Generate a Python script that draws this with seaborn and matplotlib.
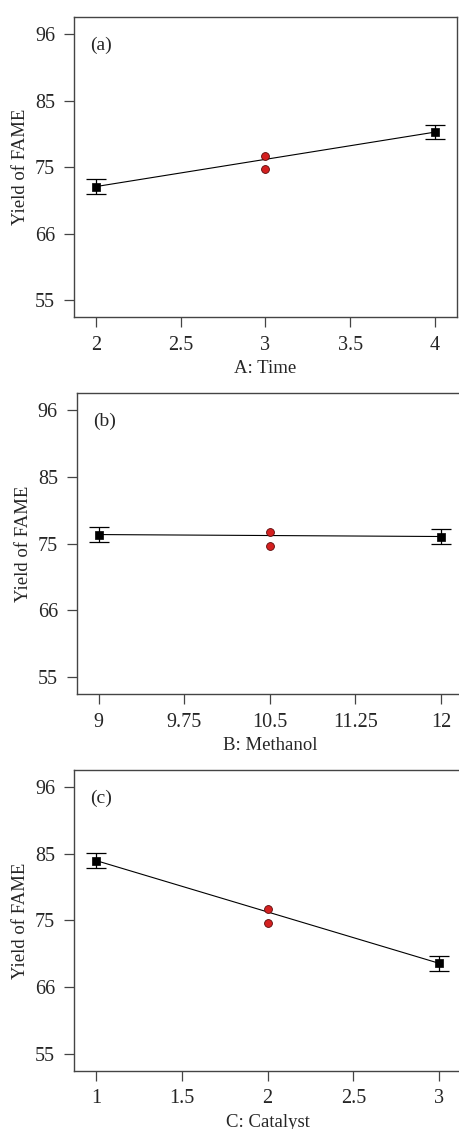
import numpy as np
import matplotlib
matplotlib.use('Agg')
import matplotlib.pyplot as plt
import seaborn as sns
import pandas as pd

# factor levels (low, high) and the centre point for each panel
time_levels = [2, 4]
time_mean = [72.5, 80.9]
time_err = [1.1, 1.1]
time_ticks = [2, 2.5, 3, 3.5, 4]
time_tick_labels = ['2', '2.5', '3', '3.5', '4']

methanol_levels = [9, 12]
methanol_mean = [76.9, 76.6]
methanol_err = [1.1, 1.1]
methanol_ticks = [9, 9.75, 10.5, 11.25, 12]
methanol_tick_labels = ['9', '9.75', '10.5', '11.25', '12']

catalyst_levels = [1, 3]
catalyst_mean = [84.7, 68.9]
catalyst_err = [1.1, 1.1]
catalyst_ticks = [1, 1.5, 2, 2.5, 3]
catalyst_tick_labels = ['1', '1.5', '2', '2.5', '3']

# centre point replicates (same in every panel)
centre_yield = [77.25, 75.15]

# y axis labels are evenly spaced on the original plot
y_tick_labels = ['55', '66', '75', '85', '96']
y_ticks = np.linspace(55, 96, 5)


def draw_panel(ax, levels, mean, err, ticks, tick_labels, tag, xlabel, xlim):
    centre = (levels[0] + levels[1]) / 2
    line_df = pd.DataFrame({'x': levels, 'y': mean})
    sns.lineplot(data=line_df, x='x', y='y', color='black', linewidth=0.8, ax=ax)

    ax.errorbar(levels, mean, yerr=err, fmt='none', ecolor='black',
                elinewidth=0.9, capsize=7, capthick=0.9, zorder=3)
    sns.scatterplot(data=line_df, x='x', y='y', marker='s', color='black',
                    s=40, edgecolor='black', linewidth=0.5, ax=ax, zorder=4)

    centre_df = pd.DataFrame({'x': [centre] * len(centre_yield), 'y': centre_yield})
    sns.scatterplot(data=centre_df, x='x', y='y', marker='o', color='#d42020',
                    s=32, edgecolor='#5a0a0a', linewidth=0.6, ax=ax, zorder=4)

    ax.set_xlim(xlim)
    ax.set_ylim((52.4, 98.6))
    ax.set_xticks(ticks)
    ax.set_xticklabels(tick_labels)
    ax.set_yticks(y_ticks)
    ax.set_yticklabels(y_tick_labels)
    ax.tick_params(axis='both', labelsize=14.5, length=7.5, width=0.9,
                   color='#444444', direction='out', pad=6)
    ax.set_xlabel(xlabel, fontsize=13.5, labelpad=4)
    ax.set_ylabel('Yield of FAME', fontsize=13.5, labelpad=4)
    for spine in ax.spines.values():
        spine.set_visible(True)
        spine.set_color('#444444')
        spine.set_linewidth(1.0)
    ax.text(0.042, 0.935, tag, transform=ax.transAxes, fontsize=14,
            ha='left', va='top')


def main():
    sns.set_style('ticks')
    plt.rcParams['font.family'] = ['Liberation Serif', 'DejaVu Serif']

    fig = plt.figure(figsize=(4.59, 11.29), dpi=100)

    ax_a = fig.add_axes([0.1612, 0.7192, 0.8344, 0.2655])
    ax_b = fig.add_axes([0.1671, 0.3853, 0.8416, 0.2663])
    ax_c = fig.add_axes([0.1612, 0.0516, 0.8438, 0.2663])

    draw_panel(ax_a, time_levels, time_mean, time_err, time_ticks,
               time_tick_labels, '(a)', 'A: Time', (1.872, 4.13))
    draw_panel(ax_b, methanol_levels, methanol_mean, methanol_err, methanol_ticks,
               methanol_tick_labels, '(b)', 'B: Methanol', (8.807, 12.193))
    draw_panel(ax_c, catalyst_levels, catalyst_mean, catalyst_err, catalyst_ticks,
               catalyst_tick_labels, '(c)', 'C: Catalyst', (0.872, 3.128))

    fig.savefig('out.png', dpi=100)
    plt.close(fig)


if __name__ == '__main__':
    main()
